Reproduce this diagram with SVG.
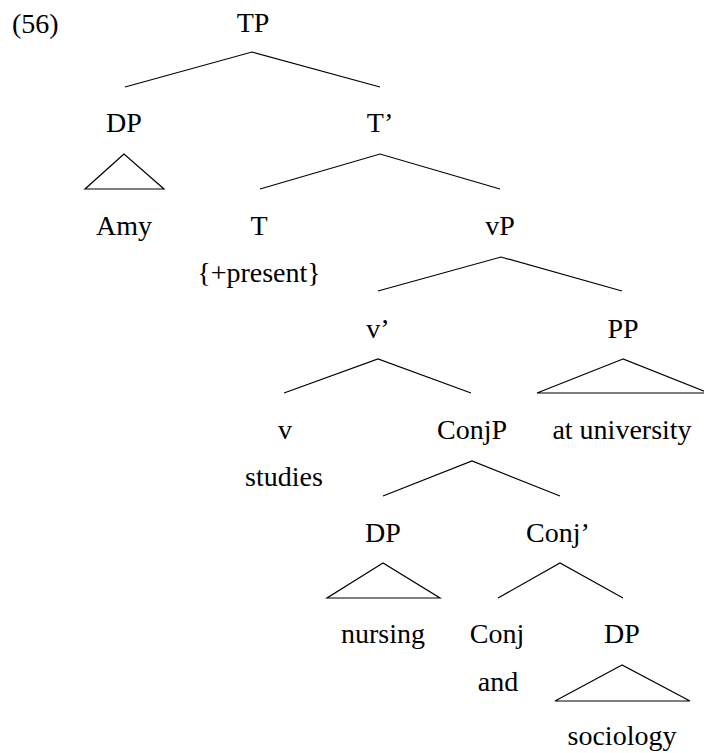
<svg xmlns="http://www.w3.org/2000/svg" width="704" height="753" viewBox="0 0 704 753">
  <rect width="704" height="753" fill="#fff"/>

  <text x="12" y="33" style="font-family: &quot;Liberation Serif&quot;, serif; font-size: 28px">(56)</text>

  <!-- branches -->
  <g id="connectors" fill="none" stroke="#000" stroke-width="1.2">
    <polyline points="125,87 252,52 380,87"/>
    <polyline points="260,189 380,154 500,189"/>
    <polyline points="378,291 501,257 622,291"/>
    <polyline points="284,393 378,359 471,393"/>
    <polyline points="383,496 472,461 560,496"/>
    <polyline points="498,598 560,563 623,598"/>
  </g>

  <!-- nodes -->
  <g id="TP"><text x="253" y="32" text-anchor="middle" style="font-family: &quot;Liberation Serif&quot;, serif; font-size: 28px">TP</text></g>
  <g id="DP-subject">
    <text x="124" y="132" text-anchor="middle" style="font-family: &quot;Liberation Serif&quot;, serif; font-size: 28px">DP</text>
    <polygon points="124,154 85,189 164,189" fill="none" stroke="#000" stroke-width="1.2"/>
    <text x="124" y="235" text-anchor="middle" style="font-family: &quot;Liberation Serif&quot;, serif; font-size: 28px">Amy</text>
  </g>
  <g id="Tbar"><text x="380" y="132" text-anchor="middle" style="font-family: &quot;Liberation Serif&quot;, serif; font-size: 28px">T&#8217;</text></g>
  <g id="T">
    <text x="259" y="235" text-anchor="middle" style="font-family: &quot;Liberation Serif&quot;, serif; font-size: 28px">T</text>
    <text x="259" y="282" text-anchor="middle" style="font-family: &quot;Liberation Serif&quot;, serif; font-size: 28px">{+present}</text>
  </g>
  <g id="vP"><text x="500" y="235" text-anchor="middle" style="font-family: &quot;Liberation Serif&quot;, serif; font-size: 28px">vP</text></g>
  <g id="vbar"><text x="378" y="338" text-anchor="middle" style="font-family: &quot;Liberation Serif&quot;, serif; font-size: 28px">v&#8217;</text></g>
  <g id="PP">
    <text x="623" y="338" text-anchor="middle" style="font-family: &quot;Liberation Serif&quot;, serif; font-size: 28px">PP</text>
    <polygon points="623,359 537,393 709,393" fill="none" stroke="#000" stroke-width="1.2"/>
    <text x="622" y="439" text-anchor="middle" style="font-family: &quot;Liberation Serif&quot;, serif; font-size: 28px">at university</text>
  </g>
  <g id="v">
    <text x="285" y="439" text-anchor="middle" style="font-family: &quot;Liberation Serif&quot;, serif; font-size: 28px">v</text>
    <text x="284" y="486" text-anchor="middle" style="font-family: &quot;Liberation Serif&quot;, serif; font-size: 28px">studies</text>
  </g>
  <g id="ConjP"><text x="472" y="439" text-anchor="middle" style="font-family: &quot;Liberation Serif&quot;, serif; font-size: 28px">ConjP</text></g>
  <g id="DP-nursing">
    <text x="383" y="542" text-anchor="middle" style="font-family: &quot;Liberation Serif&quot;, serif; font-size: 28px">DP</text>
    <polygon points="383,563 327,598 440,598" fill="none" stroke="#000" stroke-width="1.2"/>
    <text x="383" y="643" text-anchor="middle" style="font-family: &quot;Liberation Serif&quot;, serif; font-size: 28px">nursing</text>
  </g>
  <g id="Conjbar"><text x="558" y="542" text-anchor="middle" style="font-family: &quot;Liberation Serif&quot;, serif; font-size: 28px">Conj&#8217;</text></g>
  <g id="Conj">
    <text x="497" y="643" text-anchor="middle" style="font-family: &quot;Liberation Serif&quot;, serif; font-size: 28px">Conj</text>
    <text x="498" y="691" text-anchor="middle" style="font-family: &quot;Liberation Serif&quot;, serif; font-size: 28px">and</text>
  </g>
  <g id="DP-sociology">
    <text x="622" y="643" text-anchor="middle" style="font-family: &quot;Liberation Serif&quot;, serif; font-size: 28px">DP</text>
    <polygon points="622,665 555,701 690,701" fill="none" stroke="#000" stroke-width="1.2"/>
    <text x="622" y="745" text-anchor="middle" style="font-family: &quot;Liberation Serif&quot;, serif; font-size: 28px">sociology</text>
  </g>
</svg>
